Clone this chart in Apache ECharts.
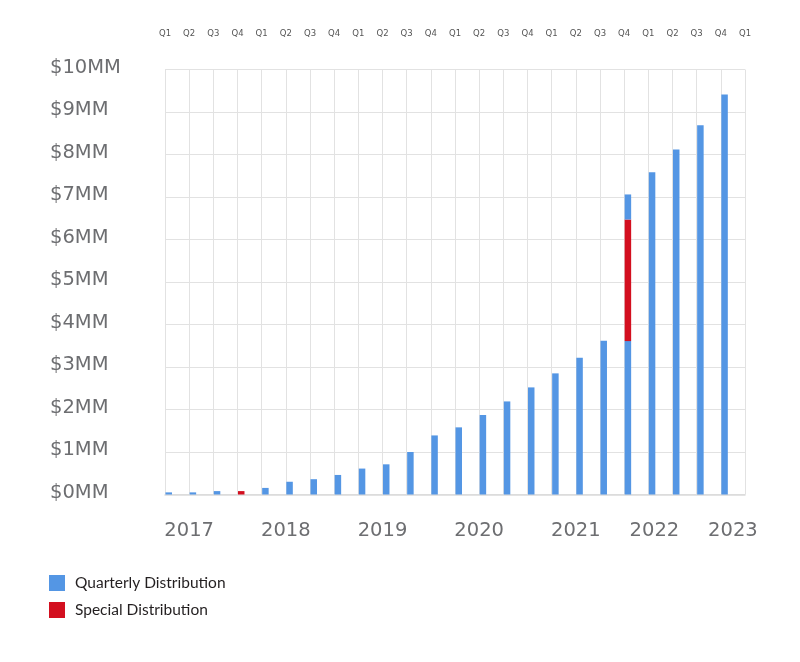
<!DOCTYPE html>
<html>
<head>
<meta charset="utf-8">
<script src="https://cdn.jsdelivr.net/npm/echarts@6/dist/echarts.min.js"></script>
<style>
    html, body { margin: 0; padding: 0; background: #fff; }
    #chart { width: 800px; height: 662px; }
</style>
</head>
<body>
<div id="chart"></div>
<script>
    // quarters 2017 Q1 .. 2022 Q4, values in $MM
    var quarters = ['2017Q1', '2017Q2', '2017Q3', '2017Q4', '2018Q1', '2018Q2', '2018Q3', '2018Q4',
        '2019Q1', '2019Q2', '2019Q3', '2019Q4', '2020Q1', '2020Q2', '2020Q3', '2020Q4',
        '2021Q1', '2021Q2', '2021Q3', '2021Q4', '2022Q1', '2022Q2', '2022Q3', '2022Q4'];
    var quarterly = [0.05, 0.05, 0.08, 0, 0.155, 0.30, 0.36, 0.46,
        0.61, 0.71, 1.00, 1.39, 1.58, 1.87, 2.19, 2.52,
        2.85, 3.22, 3.62, 3.61, 7.58, 8.12, 8.69, 9.41];
    var special = [0, 0, 0, 0.08, 0, 0, 0, 0,
        0, 0, 0, 0, 0, 0, 0, 0,
        0, 0, 0, 2.86, 0, 0, 0, 0];
    // blue part stacked above the special distribution
    var quarterlyTop = [0, 0, 0, 0, 0, 0, 0, 0,
        0, 0, 0, 0, 0, 0, 0, 0,
        0, 0, 0, 0.59, 0, 0, 0, 0];
    var quarterTicks = ['Q1', 'Q2', 'Q3', 'Q4', 'Q1', 'Q2', 'Q3', 'Q4', 'Q1', 'Q2', 'Q3', 'Q4',
        'Q1', 'Q2', 'Q3', 'Q4', 'Q1', 'Q2', 'Q3', 'Q4', 'Q1', 'Q2', 'Q3', 'Q4', 'Q1'];
    var years = ['2017', '2018', '2019', '2020', '2021', '2022', '2023'];
    var yearAt = [1, 5, 9, 13, 17, 20.25, 23.5];

    var BLUE = '#5496e4';
    var RED = '#d30f1f';
    var GRIDC = '#e2e2e2';
    var FONT = 'DejaVu Sans';

    function nz(arr) {
        return arr.map(function (v) { return v === 0 ? '-' : v; });
    }

    var myChart = echarts.init(document.getElementById('chart'));

    var option = {
        backgroundColor: '#fff',
        animation: false,
        grid: { left: 165, right: 55, top: 69.5, bottom: 167.5 },
        legend: {
            orient: 'vertical',
            left: 49,
            top: 575,
            padding: 0,
            itemWidth: 16,
            itemHeight: 16,
            itemGap: 11,
            icon: 'rect',
            data: ['Quarterly Distribution', 'Special Distribution'],
            textStyle: { fontFamily: 'Lato', fontSize: 15.5, color: '#231f20', padding: [0, 0, 0, 5] }
        },
        xAxis: [
            {
                type: 'category',
                data: quarters,
                boundaryGap: true,
                axisLine: { show: true, lineStyle: { color: '#dadada', width: 1.5 } },
                axisTick: { show: false },
                axisLabel: { show: false, interval: 0 },
                splitLine: { show: true, interval: 0, lineStyle: { color: GRIDC, width: 1 } }
            },
            {
                type: 'category',
                position: 'top',
                data: quarterTicks,
                boundaryGap: false,
                axisLine: { show: false },
                axisTick: { show: false },
                splitLine: { show: false },
                axisLabel: { interval: 0, margin: 31, fontFamily: FONT, fontSize: 8.5, color: '#555' }
            },
            {
                type: 'value',
                position: 'bottom',
                min: 0,
                max: 24,
                interval: 0.25,
                axisLine: { show: false },
                axisTick: { show: false },
                splitLine: { show: false },
                axisLabel: {
                    margin: 26,
                    fontFamily: FONT,
                    fontSize: 19.5,
                    color: '#6d6e71',
                    showMinLabel: true,
                    showMaxLabel: true,
                    formatter: function (v) {
                        for (var i = 0; i < yearAt.length; i++) {
                            if (Math.abs(yearAt[i] - v) < 0.01) {
                                return years[i];
                            }
                        }
                        return '';
                    }
                }
            }
        ],
        yAxis: {
            type: 'value',
            min: 0,
            max: 10,
            interval: 1,
            axisLine: { show: false },
            axisTick: { show: false },
            splitLine: { show: true, lineStyle: { color: GRIDC, width: 1 } },
            axisLabel: {
                align: 'left',
                verticalAlign: 'bottom',
                lineHeight: 4,
                margin: 115,
                fontFamily: FONT,
                fontSize: 19.5,
                color: '#6d6e71',
                formatter: function (v) { return '$' + v + 'MM'; }
            }
        },
        series: [
            {
                name: 'Quarterly Distribution',
                type: 'bar',
                stack: 'dist',
                barWidth: 6.5,
                barGap: '0%',
                itemStyle: { color: BLUE },
                data: nz(quarterly)
            },
            {
                name: 'Special Distribution',
                type: 'bar',
                stack: 'dist',
                barWidth: 6.5,
                barGap: '0%',
                itemStyle: { color: RED },
                data: nz(special)
            },
            {
                name: 'Quarterly Distribution',
                type: 'bar',
                stack: 'dist',
                barWidth: 6.5,
                barGap: '0%',
                itemStyle: { color: BLUE },
                data: nz(quarterlyTop)
            },
            {
                // empty column that keeps the bars at the left of each quarter
                name: 'pad',
                type: 'bar',
                stack: 'pad',
                barWidth: 16.7,
                barGap: '0%',
                silent: true,
                itemStyle: { color: 'rgba(0,0,0,0)' },
                data: quarters.map(function () { return '-'; })
            }
        ]
    };

    myChart.setOption(option);
</script>
</body>
</html>
